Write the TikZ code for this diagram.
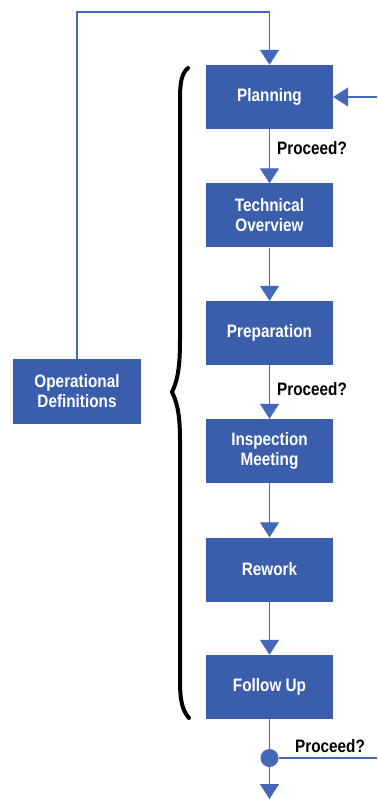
\documentclass[tikz,border=0pt]{standalone}
\usepackage{fontspec}
\setmainfont{Liberation Sans}[FakeStretch=0.85]
\usetikzlibrary{arrows.meta}
\definecolor{boxblue}{HTML}{3A5EAC}
\definecolor{lineblue}{HTML}{4469B8}
\begin{document}
\begin{tikzpicture}[x=1pt,y=-1pt,
  stage/.style={fill=boxblue, draw=none, minimum width=127pt, minimum height=64pt,
    text=white, font=\fontsize{18}{20}\selectfont\bfseries, align=center, inner sep=0pt},
  flow/.style={draw=lineblue, line width=1.2pt},
  flowarrow/.style={flow, -{Triangle[width=19pt,length=15pt]}},
  decision/.style={font=\fontsize{18}{20}\selectfont\bfseries, text=black, inner sep=0pt}]
  \useasboundingbox (0,0) rectangle (377,799);

  % process stages
  \node[stage] (plan) at (269.5,97) {Planning};
  \node[stage] (tech) at (269.5,215.5) {Technical\\Overview};
  \node[stage] (prep) at (269.5,333) {Preparation};
  \node[stage] (insp) at (269.5,451) {Inspection\\Meeting};
  \node[stage] (rework) at (269.5,569.5) {Rework};
  \node[stage] (follow) at (269.5,687) {Follow Up};
  \node[stage, minimum width=128pt, minimum height=65pt] (opdef) at (77,391.5) {Operational\\Definitions};

  % feed from operational definitions into planning
  \coordinate (topleft) at (77,12);
  \coordinate (topright) at (269.5,12);
  \draw[flowarrow] (opdef.north) -- (topleft) -- (topright) -- (plan.north);

  % re-entry from the right
  \coordinate (reentry) at (377,97);
  \draw[flowarrow] (reentry) -- (plan.east);

  % stage to stage
  \draw[flowarrow] (plan.south) -- (tech.north);
  \draw[flowarrow] (tech.south) -- (prep.north);
  \draw[flowarrow] (prep.south) -- (insp.north);
  \draw[flowarrow] (insp.south) -- (rework.north);
  \draw[flowarrow] (rework.south) -- (follow.north);

  % final decision point
  \node[circle, fill=lineblue, minimum size=18pt, inner sep=0pt] (dot) at (269.5,758) {};
  \coordinate (exitright) at (377,758);
  \coordinate (exitdown) at (269.5,799);
  \draw[flow] (follow.south) -- (dot);
  \draw[flow] (dot) -- (exitright);
  \draw[flowarrow] (dot) -- (exitdown);

  % decision labels
  \node[decision, anchor=base west] (q1) at (277,155) {Proceed?};
  \node[decision, anchor=base west] (q2) at (277,395) {Proceed?};
  \node[decision, anchor=base west] (q3) at (295,752) {Proceed?};

  % brace grouping the stages
  \draw[line width=4pt, line cap=round, line join=round]
    (188,68) .. controls (181,74) and (180,84) .. (180,100)
    -- (180,340) .. controls (180,365) and (178,380) .. (172,392)
    .. controls (178,404) and (180,418) .. (180,440)
    -- (180,680) .. controls (180,700) and (182,710) .. (189,718);
\end{tikzpicture}
\end{document}
